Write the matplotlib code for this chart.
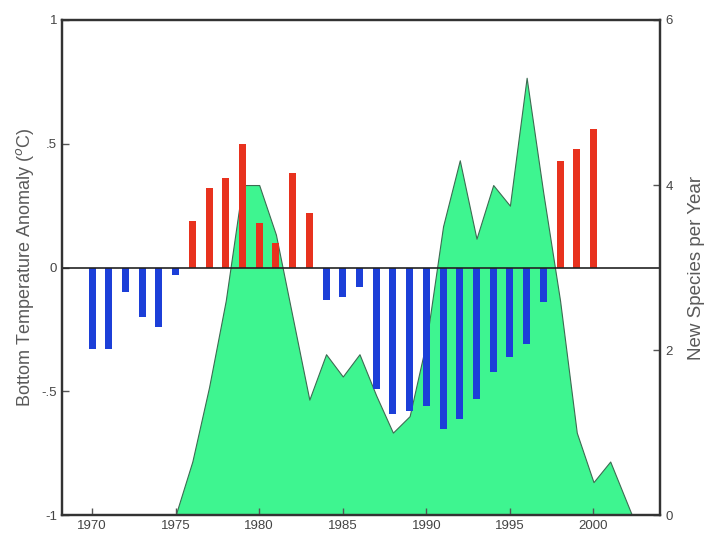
import matplotlib
matplotlib.use("Agg")
import matplotlib.pyplot as plt

plt.rcParams['font.family'] = ['Liberation Sans', 'DejaVu Sans']

# bottom temperature anomaly, one bar per year
years = list(range(1970, 2001))
anomaly = [-0.33, -0.33, -0.10, -0.20, -0.24, -0.03,
           0.19, 0.32, 0.36, 0.50, 0.18, 0.10, 0.38, 0.22,
           -0.13, -0.12, -0.08, -0.49, -0.59, -0.58, -0.56, -0.65,
           -0.61, -0.53, -0.42, -0.36, -0.31, -0.14,
           0.43, 0.48, 0.56]

# new species per year (right axis)
sp_years = [1975, 1976, 1977, 1978, 1979, 1980, 1981, 1982, 1983, 1984,
            1985, 1986, 1987, 1988, 1989, 1990, 1991, 1992, 1993, 1994,
            1995, 1996, 1997, 1998, 1999, 2000, 2001, 2002.3]
species = [0, 0.65, 1.55, 2.6, 4.0, 4.0, 3.4, 2.4, 1.4, 1.95,
           1.68, 1.95, 1.45, 1.0, 1.2, 2.1, 3.5, 4.3, 3.35, 4.0,
           3.75, 5.3, 3.9, 2.6, 1.0, 0.4, 0.65, 0]

xticks = [1970, 1975, 1980, 1985, 1990, 1995, 2000]
left_ticks = [-1, -0.5, 0, 0.5, 1]
left_labels = ['-1', '-.5', '0', '.5', '1']
right_ticks = [0, 2, 4, 6]

fig = plt.figure(figsize=(7.04, 5.40), dpi=100)
ax = fig.add_axes([0.088, 0.046, 0.85, 0.917])
ax2 = ax.twinx()

# green area behind the bars
ax2.fill_between(sp_years, species, 0, facecolor='#3ef590',
                 edgecolor='#3d6b52', linewidth=0.8)
ax2.set_ylim(0, 6)
ax2.set_yticks(right_ticks)
ax2.set_ylabel('New Species per Year', color='#5a5a5a', fontsize=13.5,
               labelpad=11)

ax.set_zorder(ax2.get_zorder() + 1)
ax.patch.set_visible(False)

colors = ['#e8321e' if v > 0 else '#1c3fd8' for v in anomaly]
ax.bar(years, anomaly, width=0.42, color=colors)
ax.axhline(0, color='#222222', linewidth=1.2)

ax.set_xlim(1968.2, 2004)
ax.set_ylim(-1, 1)
ax.set_xticks(xticks)
ax.set_yticks(left_ticks)
ax.set_yticklabels(left_labels)
ax.set_ylabel('Bottom Temperature Anomaly ($^o$C)', color='#5a5a5a',
              fontsize=13, labelpad=4)

for a in (ax, ax2):
    a.tick_params(direction='in', length=5, width=1, colors='#555555',
                  labelcolor='#444444', labelsize=9.5)
    for s in a.spines.values():
        s.set_linewidth(1.6)
        s.set_color('#333333')

fig.savefig('out.png', dpi=100)
